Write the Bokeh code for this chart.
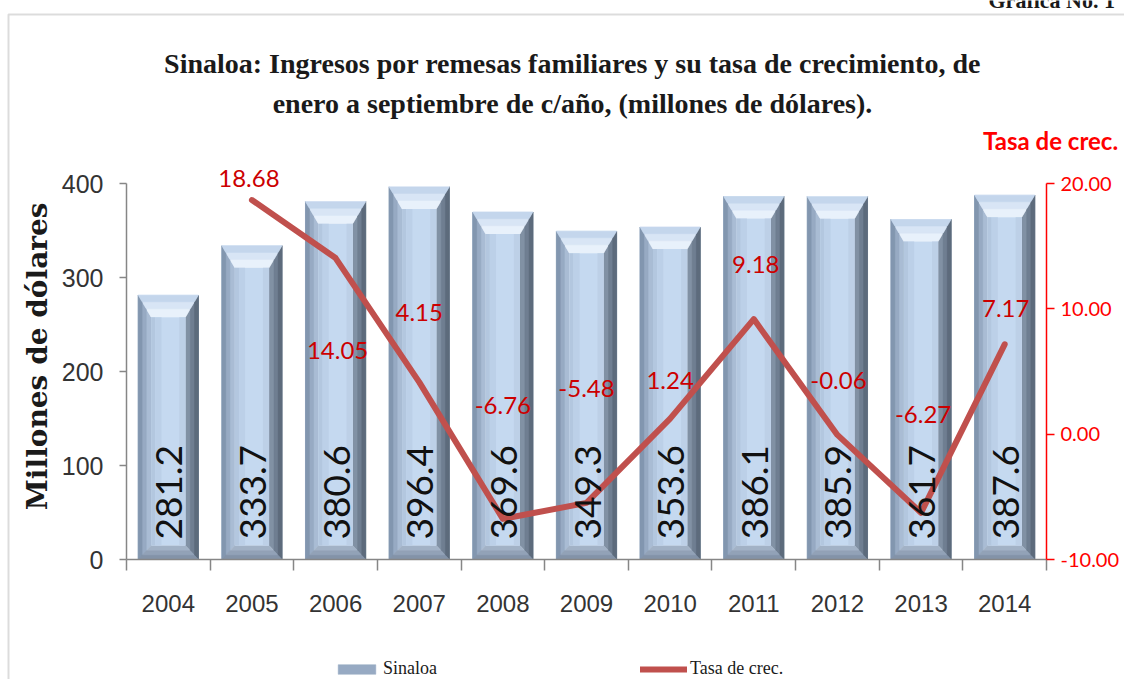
import math
from bokeh.plotting import figure
from bokeh.models import (Range1d, LinearAxis, FixedTicker, ColumnDataSource, LabelSet, Label,
                          Legend, LegendItem, NumeralTickFormatter, BoxAnnotation)
from bokeh.core.properties import value
from bokeh.embed import file_html
from bokeh.resources import INLINE

# ---------------- data ----------------
years = ["2004", "2005", "2006", "2007", "2008", "2009", "2010", "2011", "2012", "2013", "2014"]
remesas = [281.2, 333.7, 380.6, 396.4, 369.6, 349.3, 353.6, 386.1, 385.9, 361.7, 387.6]
tasa = [None, 18.68, 14.05, 4.15, -6.76, -5.48, 1.24, 9.18, -0.06, -6.27, 7.17]
left_ticks = [0, 100, 200, 300, 400]
right_ticks = [-10, 0, 10, 20]
title_lines = ["Sinaloa: Ingresos por remesas familiares y su tasa de crecimiento, de",
               "enero a septiembre de c/año, (millones de dólares)."]
y_title = "Millones  de  dólares"
right_title = "Tasa  de crec."
series_names = ["Sinaloa", "Tasa de crec."]
corner_text = "Gráfica No. 1"

# ---------------- layout (pixels) ----------------
W, H = 1124, 679
AX_L, AX_R, AX_T, AX_B = 126, 1046, 183, 559   # where the axes are drawn
XMIN, XMAX = -0.5, len(years) - 0.5
PX_X = (XMAX - XMIN) / (AX_R - AX_L)
PX_Y = (left_ticks[-1] - left_ticks[0]) / (AX_B - AX_T)
PX_R = (right_ticks[-1] - right_ticks[0]) / (AX_B - AX_T)


def xd(px):
    return XMIN + (px - AX_L) * PX_X


def yd(py):
    return left_ticks[0] + (AX_B - py) * PX_Y


# the plotting frame fills the whole canvas; axes are pinned with fixed_location
p = figure(width=W, height=H,
           x_range=Range1d(xd(0), xd(W)),
           y_range=Range1d(yd(H), yd(0)),
           output_backend="svg", toolbar_location=None, min_border=0)
p.extra_y_ranges = {"rate": Range1d(right_ticks[0] - (H - AX_B) * PX_R,
                                    right_ticks[-1] + AX_T * PX_R)}
p.xgrid.grid_line_color = None
p.ygrid.grid_line_color = None
p.outline_line_color = None
p.background_fill_color = "white"
p.border_fill_color = "white"

AX_GREY = "#868686"
LBL = "#333333"
SANS = "Liberation Sans"
CAL = "Lato"
SERIF = "Liberation Serif"

# x axis
xa = p.xaxis[0]
idx = list(range(len(years)))
xa.fixed_location = left_ticks[0]
xa.bounds = (XMIN, XMAX)
xa.ticker = FixedTicker(ticks=idx, minor_ticks=[i - 0.5 for i in range(len(years) + 1)])
xa.major_label_overrides = {i: y for i, y in zip(idx, years)}
xa.major_tick_line_color = None
xa.major_tick_out = 0
xa.major_tick_in = 0
xa.minor_tick_line_color = AX_GREY
xa.minor_tick_line_width = 1.5
xa.minor_tick_out = 11
xa.minor_tick_in = 0
xa.axis_line_color = AX_GREY
xa.axis_line_width = 1.5
xa.major_label_text_font = SANS
xa.major_label_text_font_size = "24px"
xa.major_label_text_color = LBL
xa.major_label_standoff = 24

# left y axis
ya = p.yaxis[0]
ya.fixed_location = XMIN
ya.bounds = (left_ticks[0], left_ticks[-1])
ya.ticker = FixedTicker(ticks=left_ticks)
ya.minor_tick_line_color = None
ya.major_tick_out = 7
ya.major_tick_in = 0
ya.major_tick_line_color = AX_GREY
ya.major_tick_line_width = 1.5
ya.axis_line_color = AX_GREY
ya.axis_line_width = 1.5
ya.major_label_text_font = SANS
ya.major_label_text_font_size = "25px"
ya.major_label_text_color = LBL
ya.major_label_standoff = 16

# right y axis
ra = LinearAxis(y_range_name="rate", ticker=FixedTicker(ticks=right_ticks),
                formatter=NumeralTickFormatter(format="0.00"),
                bounds=(right_ticks[0], right_ticks[-1]), fixed_location=XMAX)
ra.minor_tick_line_color = None
ra.major_tick_out = 8
ra.major_tick_in = 0
ra.major_tick_line_color = "#FF0000"
ra.major_tick_line_width = 1.5
ra.axis_line_color = "#FF0000"
ra.axis_line_width = 1.5
ra.major_label_text_font = CAL
ra.major_label_text_font_size = "20px"
ra.major_label_text_color = "#FF0000"
ra.major_label_standoff = 6
p.add_layout(ra, "right")

# ---------------- bevelled bars ----------------
BAR_W = 0.72
BV_X = 13 * PX_X
BV_T = 22 * PX_Y
BV_B = 14 * PX_Y
levels = [1.0, 0.62, 0.3]
facet_colors = {
    "left": ["#A9BCD4", "#97AAC3", "#8296AF"],
    "right": ["#8191A4", "#6F7E91", "#5D6B7C"],
    "top": ["#E8F1FB", "#D8E5F5", "#C4D6EC"],
    "bottom": ["#A2B2C6", "#92A2B7", "#8393A8"],
}
pxs, pys, pcs = [], [], []
for i, v in zip(idx, remesas):
    x0, x1 = i - BAR_W / 2, i + BAR_W / 2
    y0, y1 = 0.0, v
    for li, f in enumerate(levels):
        polys = {
            "left": ([x0, x0, x0 + f * BV_X, x0 + f * BV_X], [y0, y1, y1 - f * BV_T, y0 + f * BV_B]),
            "right": ([x1, x1, x1 - f * BV_X, x1 - f * BV_X], [y0, y1, y1 - f * BV_T, y0 + f * BV_B]),
            "top": ([x0, x1, x1 - f * BV_X, x0 + f * BV_X], [y1, y1, y1 - f * BV_T, y1 - f * BV_T]),
            "bottom": ([x0, x1, x1 - f * BV_X, x0 + f * BV_X], [y0, y0, y0 + f * BV_B, y0 + f * BV_B]),
        }
        for k, (xs, ys) in polys.items():
            pxs.append(xs)
            pys.append(ys)
            pcs.append(facet_colors[k][li])
bars_r = p.patches(xs="xs", ys="ys", fill_color="c", line_color="c", line_width=0.5,
                   source=ColumnDataSource(dict(xs=pxs, ys=pys, c=pcs)))

ql, qr, qb, qt, qc = [], [], [], [], []
strips = [(0.0, 1.0, "#C5D9F0"), (0.0, 0.12, "#B3C7DF"), (0.12, 0.3, "#BCD0E8"), (0.82, 1.0, "#BDD0E7")]
for i, v in zip(idx, remesas):
    a, b = i - BAR_W / 2 + BV_X, i + BAR_W / 2 - BV_X
    for s0, s1, c in strips:
        ql.append(a + (b - a) * s0)
        qr.append(a + (b - a) * s1)
        qb.append(BV_B)
        qt.append(v - BV_T)
        qc.append(c)
p.quad(left="l", right="r", bottom="b", top="t", fill_color="c", line_color=None,
       source=ColumnDataSource(dict(l=ql, r=qr, b=qb, t=qt, c=qc)))

bar_src = ColumnDataSource(dict(x=idx, y=[0] * len(idx), t=[f"{v:.1f}" for v in remesas]))
p.add_layout(LabelSet(x="x", y="y", text="t", source=bar_src, angle=math.pi / 2,
                      text_align="left", text_baseline="middle", x_offset=1, y_offset=20,
                      text_font=value(CAL), text_font_size="37px", text_color="#111111"))

# ---------------- line ----------------
lx = [i for i, r in zip(idx, tasa) if r is not None]
ly = [r for r in tasa if r is not None]
line_r = p.line(x=lx, y=ly, y_range_name="rate", line_color="#C0504D", line_width=6,
                line_join="round", line_cap="round")

lab_dx = [-3, 2, 0, 0, 0, 0, 2, 1, 2, 1]
lab_dy = [-22, 92, -70, -113, -114, -38, -55, -54, -98, -36]
rate_src = ColumnDataSource(dict(x=lx, y=ly, t=[f"{r:.2f}" for r in ly],
                                 dx=lab_dx, dy=[-d for d in lab_dy]))
p.add_layout(LabelSet(x="x", y="y", text="t", source=rate_src, y_range_name="rate",
                      x_offset="dx", y_offset="dy", text_align="center", text_baseline="middle",
                      text_font=value(CAL), text_font_size="24px", text_color="#CC0000"))

# ---------------- texts ----------------
for line, cy in zip(title_lines, [63, 103]):
    p.add_layout(Label(x=xd(572), y=yd(cy), text=line, text_align="center", text_baseline="middle",
                       text_font=SERIF, text_font_style="bold", text_font_size="28px",
                       text_color="#1a1a1a"))
p.add_layout(Label(x=xd(37), y=yd(346), text=y_title, angle=math.pi / 2, text_align="center",
                   text_baseline="middle", text_font="DejaVu Serif", text_font_style="bold",
                   text_font_size="28px", text_color="#1a1a1a"))
p.add_layout(Label(x=xd(1053), y=yd(140), text=right_title, text_align="center",
                   text_baseline="middle", text_font=CAL, text_font_style="bold",
                   text_font_size="24px", text_color="#FF0000"))
p.add_layout(Label(x=xd(988), y=yd(0), text=corner_text, text_align="left",
                   text_baseline="alphabetic", text_font=SERIF, text_font_style="bold",
                   text_font_size="22px", text_color="#1a1a1a"))

# frame border
p.add_layout(BoxAnnotation(left=xd(8), right=xd(W + 50), top=yd(14), bottom=yd(H + 50),
                           fill_alpha=0, line_color="#8C8C8C", line_width=2))

# ---------------- legend ----------------
legend = Legend(items=[LegendItem(label=series_names[0], renderers=[bars_r], index=4),
                       LegendItem(label=series_names[1], renderers=[line_r])],
                orientation="horizontal", location=(333, 0), spacing=107, label_width=150,
                glyph_width=47, glyph_height=12, label_standoff=3, padding=0, margin=0,
                border_line_color=None, background_fill_alpha=0,
                label_text_font=SERIF, label_text_font_size="18px",
                label_text_color="#1a1a1a")
p.add_layout(legend)

open("out.html", "w").write(file_html(p, INLINE))
